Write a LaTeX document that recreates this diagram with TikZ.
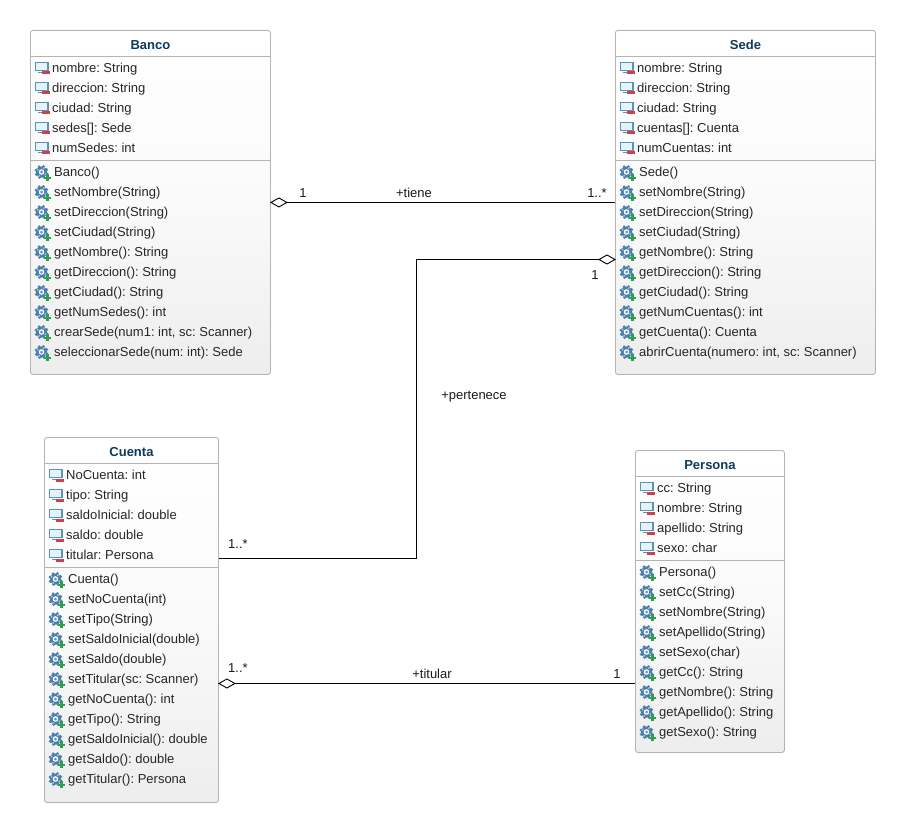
\documentclass[tikz,border=0pt]{standalone}
\usepackage{fontspec}
\setmainfont{Liberation Sans}
\frenchspacing
\usetikzlibrary{positioning,calc}
\definecolor{titleblue}{HTML}{0F3A5C}
\definecolor{boxline}{HTML}{B4B4B4}
\definecolor{iconblue}{HTML}{5A92B8}
\definecolor{icondark}{HTML}{4A7FAE}
\definecolor{iconcyan}{HTML}{E4F3F8}
\definecolor{iconred}{HTML}{D0404A}
\definecolor{icongreen}{HTML}{2E9E4F}
\tikzset{
  classbox/.style={draw=boxline,line width=.9pt,rounded corners=2.5pt,anchor=north west,inner sep=0pt,
    top color=white,bottom color=black!7,middle color=black!2},
  divider/.style={draw=boxline,line width=.9pt},
  titletext/.style={font=\fontsize{13}{15}\selectfont\bfseries,text=titleblue,inner sep=0pt},
  rowtext/.style={font=\fontsize{13}{15}\selectfont,text=black!85,anchor=base west,inner sep=0pt},
  assoc/.style={draw=black,line width=1pt},
  lbl/.style={font=\fontsize{13}{15}\selectfont,text=black!90,inner sep=0pt},
  hollowdiamond/.style={draw=black,fill=white,line width=.9pt},
}
\newcommand{\fieldicon}[2]{%
  \draw[iconblue,fill=iconcyan,line width=1.5pt] (#1-6,#2-5) rectangle (#1+6.5,#2+3);
  \draw[iconblue,line width=1pt] (#1-4,#2+5.3) -- (#1+3,#2+5.3);
  \fill[iconred] (#1+0.5,#2+4) rectangle (#1+8,#2+7);
}
\newcommand{\methodicon}[2]{%
  \fill[icondark] (#1,#2) circle (5.6);
  \foreach \a in {0,45,...,315}{\fill[icondark] (#1,#2) ++(\a+20:5.7) circle (1.6);}
  \fill[white] (#1,#2) circle (2.8);
  \fill[iconblue] (#1,#2) circle (1.5);
  \foreach \a in {30,120,210,300}{\fill[white!60!icondark] (#1,#2) ++(\a:4.4) circle (.9);}
  \fill[icongreen] (#1+2.5,#2+4.6) rectangle (#1+9.5,#2+7.2);
  \fill[icongreen] (#1+4.7,#2+2.4) rectangle (#1+7.3,#2+9.4);
}
% #1 name, #2 left, #3 top, #4 width, #5 height, #6 title, #7 divider y, #8 fields, #9 methods
\newcommand{\umlclass}[9]{%
  \node[classbox,minimum width=#4,minimum height=#5] (#1) at (#2,#3) {};
  \node[titletext] (#1t) at ($(#1.north)+(0,15)$) {#6};
  \draw[divider] (#2,#3+26) -- (#2+#4,#3+26);
  \draw[divider] (#2,#7) -- (#2+#4,#7);
  \pgfmathsetmacro{\xx}{#2+11.5}
  \foreach \t [count=\i from 0] in {#8}{%
    \pgfmathsetmacro{\yy}{#3+37.5+20*\i}
    \fieldicon{\xx}{\yy}
    \node[rowtext] (#1f\i) at (#2+22,\yy+5) {\t};
  }
  \foreach \t [count=\i from 0] in {#9}{%
    \pgfmathsetmacro{\yy}{#7+12+20*\i}
    \methodicon{\xx}{\yy}
    \node[rowtext] (#1m\i) at (#2+24,\yy+4) {\t};
  }
}
\begin{document}
\begin{tikzpicture}[x=1pt,y=-1pt]
\useasboundingbox (0,0) rectangle (905,832);
\umlclass{banco}{30}{30}{240}{344}{Banco}{160}
 {{nombre: String},{direccion: String},{ciudad: String},{sedes[]: Sede},{numSedes: int}}
 {{Banco()},{setNombre(String)},{setDireccion(String)},{setCiudad(String)},{getNombre(): String},{getDireccion(): String},{getCiudad(): String},{getNumSedes(): int},{crearSede(num1: int, sc: Scanner)},{seleccionarSede(num: int): Sede}}
\umlclass{sede}{615}{30}{260}{344}{Sede}{160}
 {{nombre: String},{direccion: String},{ciudad: String},{cuentas[]: Cuenta},{numCuentas: int}}
 {{Sede()},{setNombre(String)},{setDireccion(String)},{setCiudad(String)},{getNombre(): String},{getDireccion(): String},{getCiudad(): String},{getNumCuentas(): int},{getCuenta(): Cuenta},{abrirCuenta(numero: int, sc: Scanner)}}
\umlclass{cuenta}{44}{437}{174}{365}{Cuenta}{567}
 {{NoCuenta: int},{tipo: String},{saldoInicial: double},{saldo: double},{titular: Persona}}
 {{Cuenta()},{setNoCuenta(int)},{setTipo(String)},{setSaldoInicial(double)},{setSaldo(double)},{setTitular(sc: Scanner)},{getNoCuenta(): int},{getTipo(): String},{getSaldoInicial(): double},{getSaldo(): double},{getTitular(): Persona}}
\umlclass{persona}{635}{450}{149}{302}{Persona}{560}
 {{cc: String},{nombre: String},{apellido: String},{sexo: char}}
 {{Persona()},{setCc(String)},{setNombre(String)},{setApellido(String)},{setSexo(char)},{getCc(): String},{getNombre(): String},{getApellido(): String},{getSexo(): String}}
% connectors
\coordinate (sedeD) at ($(sede.north west)+(0,229.5)$);
\coordinate (cuentaE) at ($(cuenta.north east)+(0,121.5)$);
\coordinate (cuentaD) at ($(cuenta.north east)+(0,246.5)$);
\coordinate (personaW) at ($(persona.north west)+(0,233.5)$);
\coordinate (bend1) at (416.5,259.5);
\draw[assoc] (banco.east) -- (sede.west);
\draw[assoc] (sedeD) -- (bend1) |- (cuentaE);
\draw[assoc] (cuentaD) -- (personaW);
\draw[hollowdiamond] (banco.east) -- ++(8,-4.5) -- ++(8,4.5) -- ++(-8,4.5) -- cycle;
\draw[hollowdiamond] (sedeD) -- ++(-8,-4.5) -- ++(-8,4.5) -- ++(8,4.5) -- cycle;
\draw[hollowdiamond] (cuentaD) -- ++(8,-4.5) -- ++(8,4.5) -- ++(-8,4.5) -- cycle;
% labels
\node[lbl] (l1) at (303,193) {1};
\node[lbl] (l2) at (414,193) {+tiene};
\node[lbl] (l3) at (597,193) {1..*};
\node[lbl] (l4) at (595,275) {1};
\node[lbl] (l5) at (474,397) {+pertenece};
\node[lbl] (l6) at (238,544.5) {1..*};
\node[lbl] (l7) at (238,668.5) {1..*};
\node[lbl] (l8) at (432,674) {+titular};
\node[lbl] (l9) at (617,674) {1};
\end{tikzpicture}
\end{document}
